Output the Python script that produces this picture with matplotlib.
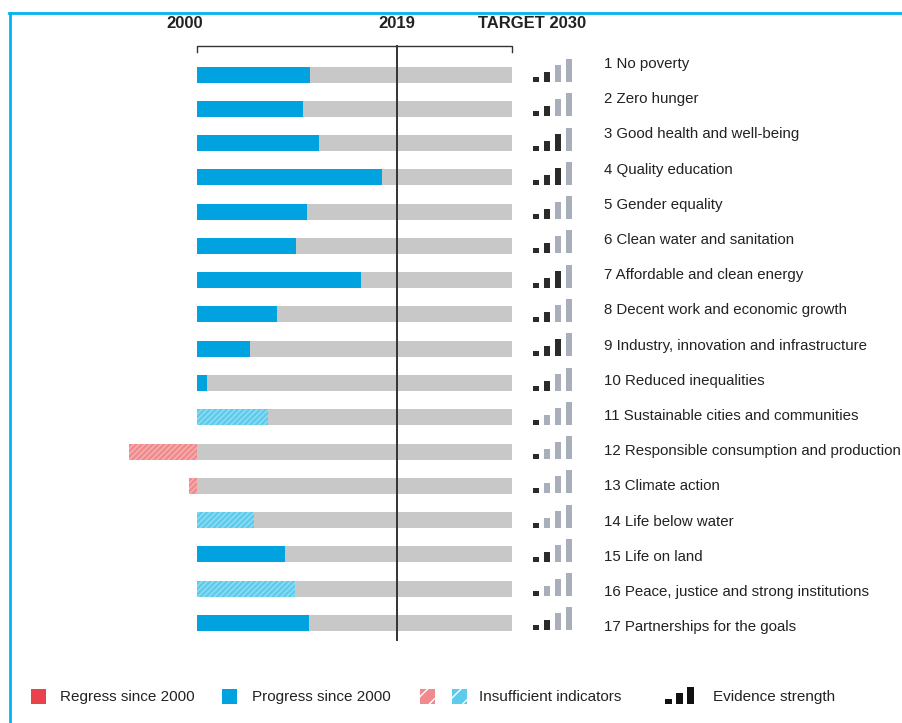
import matplotlib.pyplot as plt
from matplotlib.patches import Rectangle
from matplotlib.lines import Line2D

# SDG progress, as a share of the distance from 2000 to the 2030 target
goals = [
    "No poverty", "Zero hunger", "Good health and well-being",
    "Quality education", "Gender equality", "Clean water and sanitation",
    "Affordable and clean energy", "Decent work and economic growth",
    "Industry, innovation and infrastructure", "Reduced inequalities",
    "Sustainable cities and communities",
    "Responsible consumption and production", "Climate action",
    "Life below water", "Life on land",
    "Peace, justice and strong institutions", "Partnerships for the goals",
]
progress = [0.359, 0.337, 0.387, 0.587, 0.349, 0.314, 0.521, 0.254, 0.168,
            0.032, 0.225, -0.216, -0.025, 0.181, 0.279, 0.311, 0.356]
insufficient = [False, False, False, False, False, False, False, False, False,
                False, True, True, True, True, False, True, False]
evidence = [2, 2, 3, 3, 2, 2, 3, 2, 3, 2, 1, 1, 1, 1, 2, 1, 2]
now_mark = 0.635  # 2019 on the 2000 -> 2030 scale

BLUE = "#00a3e0"
BLUE_LIGHT = "#5ccbec"
RED = "#e8434b"
RED_LIGHT = "#f08a8c"
GREY = "#c8c8c8"
DARK = "#2a2a2a"
PALE = "#a9aebb"
FRAME = "#00b4ef"

plt.rcParams["font.family"] = ["Liberation Sans", "DejaVu Sans"]
plt.rcParams["hatch.linewidth"] = 1.0

W, H = 903, 723
fig = plt.figure(figsize=(W / 100, H / 100), dpi=100)

# axes: x 0..1 -> px 197..512, rows at 34.28 px spacing
px_x = 315.0
px_y = 34.28
ax = fig.add_axes([197 / W, 1 - 640.1 / H, px_x / W, (640.1 - 57.4) / H])
ax.set_xlim(0, 1)
ax.set_ylim(17.5, 0.5)
ax.axis("off")

rows = list(range(1, len(goals) + 1))
bh = 16 / px_y

ax.barh(rows, [1] * len(rows), left=0, height=bh, color=GREY, zorder=1)

for r, v, ins in zip(rows, progress, insufficient):
    if v < 0:
        col = RED_LIGHT if ins else RED
    else:
        col = BLUE_LIGHT if ins else BLUE
    ax.barh(r, v, height=bh, color=col, linewidth=0, zorder=2, clip_on=False)
    if ins:
        ax.barh(r, v, height=bh, facecolor="none", edgecolor="#ffffff",
                hatch="//////", linewidth=0, alpha=0.35, zorder=3,
                clip_on=False)

# 2019 line and header bracket
y_top = (46 - 74.5) / px_y + 1
y_tick = (52 - 74.5) / px_y + 1
ax.plot([now_mark, now_mark], [y_top, 17.5], color="#333333", lw=1.4,
        clip_on=False, zorder=4)
ax.plot([0, 0, 1, 1], [y_tick, y_top, y_top, y_tick], color="#333333",
        lw=1.0, clip_on=False)

# evidence strength icons and goal labels
icon_x = [533, 544, 555, 566]
icon_h = [5, 10, 17, 23]
for r, g, ev in zip(rows, goals, evidence):
    base = r + 7.5 / px_y
    for k in range(4):
        h = icon_h[k] / px_y
        ax.add_patch(Rectangle(((icon_x[k] - 197) / px_x, base - h), 6 / px_x, h,
                               facecolor=DARK if k < ev else PALE,
                               edgecolor="none", clip_on=False))
    ly = (64 + 35.2 * (r - 1) - 74.5) / px_y + 1
    ax.text((604 - 197) / px_x, ly, f"{r} {g}", va="center", ha="left",
            fontsize=10.8, color="#222222", clip_on=False)

# header labels
for x, s in [(185, "2000"), (397, "2019"), (532, "TARGET 2030")]:
    fig.text(x / W, 1 - 24 / H, s, ha="center", va="center",
             fontsize=12, fontweight="bold", color="#222222")

# legend
def fx(x):
    return x / W

def fy(y):
    return 1 - y / H

ly = 696
sq = 15
for x, col, hatch in [(31, RED, None), (222, BLUE, None),
                      (420, RED_LIGHT, "//"), (452, BLUE_LIGHT, "//")]:
    fig.add_artist(Rectangle((fx(x), fy(ly + sq / 2)), sq / W, sq / H,
                             facecolor=col, edgecolor="none",
                             transform=fig.transFigure))
    if hatch:
        fig.add_artist(Rectangle((fx(x), fy(ly + sq / 2)), sq / W, sq / H,
                                 facecolor="none", edgecolor="#ffffff",
                                 hatch=hatch, linewidth=0,
                                 transform=fig.transFigure))

for k in range(3):
    h = [5, 11, 17][k]
    fig.add_artist(Rectangle((fx(665 + 11 * k), fy(ly + 8)), 7 / W, h / H,
                             facecolor="#111111", edgecolor="none",
                             transform=fig.transFigure))

for x, s in [(60, "Regress since 2000"), (252, "Progress since 2000"),
             (479, "Insufficient indicators"), (713, "Evidence strength")]:
    fig.text(fx(x), fy(ly + 1), s, ha="left", va="center", fontsize=11,
             color="#222222")

# frame
fig.add_artist(Line2D([fx(9), 1], [fy(13), fy(13)], color=FRAME, lw=2,
                      transform=fig.transFigure))
fig.add_artist(Line2D([fx(10), fx(10)], [fy(13), 0], color=FRAME, lw=2,
                      transform=fig.transFigure))

fig.savefig("out.png", dpi=100)
